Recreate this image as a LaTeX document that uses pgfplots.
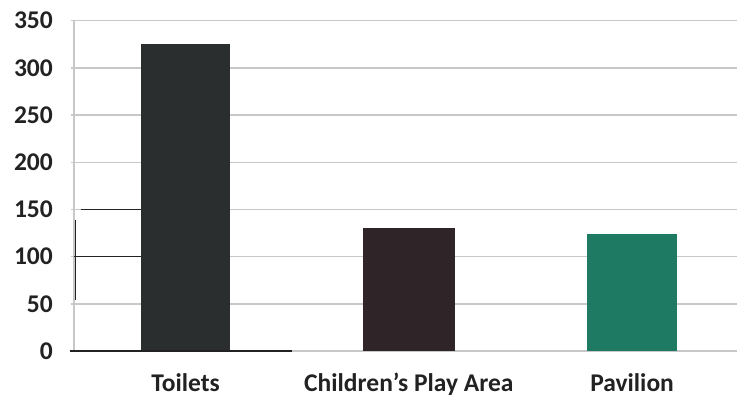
\documentclass[border=0pt]{standalone}
\usepackage{pgfplots}
\pgfplotsset{compat=1.18}
\usepackage{fontspec}
\setmainfont{Carlito}

\definecolor{toilets}{HTML}{2B2E2F}
\definecolor{play}{HTML}{2F2427}
\definecolor{pavilion}{HTML}{1E7A62}
\definecolor{gridgray}{HTML}{C8C8C8}
\definecolor{labelink}{HTML}{222222}

\begin{document}
\begin{tikzpicture}
\begin{axis}[
  name=ax,
  scale only axis,
  width=663pt, height=330.3pt,
  xmin=-0.5, xmax=2.47,
  ymin=0, ymax=350,
  ytick={0,50,...,350},
  xtick={0,1,2},
  xticklabels={Toilets, Children’s Play Area, Pavilion},
  extra x ticks={0.5,1.5},
  extra x tick labels={},
  extra x tick style={grid=none, major tick length=5pt, tick style={gridgray, line width=1pt}},
  x tick style={draw=none},
  y tick style={gridgray, line width=1.5pt},
  tick align=outside,
  major tick length=6pt,
  ymajorgrids,
  grid style={gridgray, line width=1.5pt},
  axis x line=bottom,
  axis y line=left,
  axis line style={gridgray, line width=1.5pt, -},
  /pgf/number format/assume math mode=true,
  tick label style={font=\fontsize{25.5}{30}\selectfont\bfseries, text=labelink},
  yticklabel style={anchor=east, inner sep=0pt, xshift=-18pt},
  xticklabel style={anchor=base, inner sep=0pt, yshift=-37.5pt},
  clip=false,
]
\addplot[ybar, bar width=89pt, fill=toilets, draw=none] coordinates {(0,325)};
\addplot[ybar, bar width=92pt, fill=play, draw=none] coordinates {(1,130)};
\addplot[ybar, bar width=90pt, fill=pavilion, draw=none] coordinates {(2,124)};
% darker pen strokes over the lower-left grid
\draw[labelink, line width=1.2pt] (axis cs:-0.52,0) -- (axis cs:0.475,0);
\draw[labelink, line width=1pt] (axis cs:-0.5,100) -- (axis cs:-0.2,100);
\draw[labelink, line width=1pt] (axis cs:-0.47,150) -- (axis cs:-0.2,150);
\draw[labelink, line width=1pt] (axis cs:-0.495,54) -- (axis cs:-0.495,139);
\end{axis}
\pgfresetboundingbox
\path ([xshift=-74pt,yshift=-47pt]ax.south west) rectangle ([yshift=20.7pt]ax.north east);
\end{tikzpicture}
\end{document}
